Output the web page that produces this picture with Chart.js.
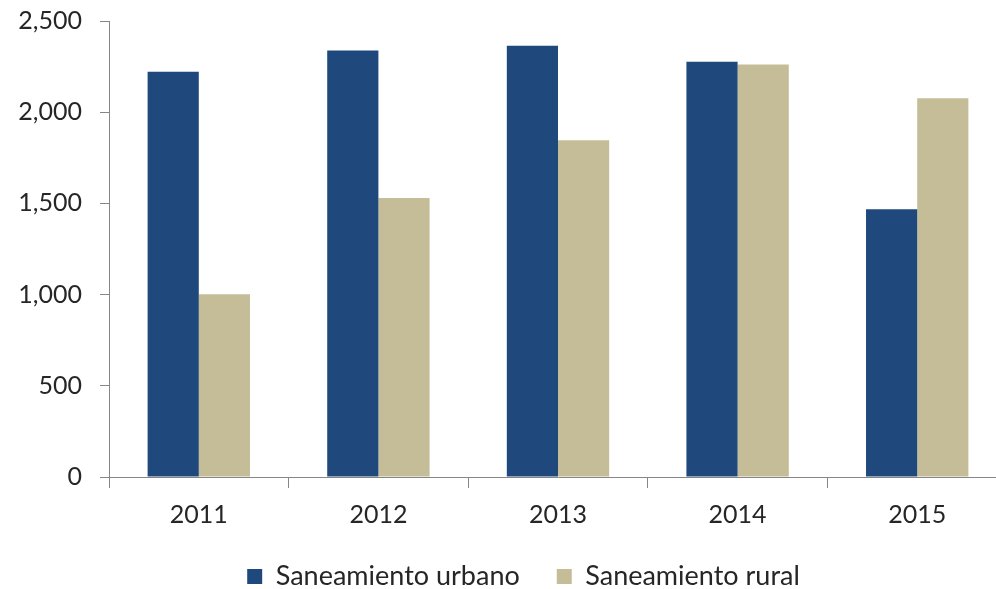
<!DOCTYPE html>
<html>
<head>
<meta charset="utf-8">
<script src="https://cdn.jsdelivr.net/npm/chart.js@4"></script>
<style>
    body { margin: 0; background: #fff; overflow: hidden; }
</style>
</head>
<body>
<canvas id="sanitation-chart" width="1010" height="589"></canvas>
<script>
const years = ["2011", "2012", "2013", "2014", "2015"];
const urbanValues = [2222, 2338, 2364, 2276, 1468];
const ruralValues = [1002, 1530, 1846, 2262, 2077];
const yTicks = [0, 500, 1000, 1500, 2000, 2500];

const sanitationCanvas = document.querySelector("#sanitation-chart").getContext('2d');

Chart.defaults.font.family = 'Lato, "Open Sans", sans-serif';
Chart.defaults.color = '#262626';

// nudge the legend a little right, like the original
const legendShift = {
    id: 'legendShift',
    afterLayout: (chart) => {
        chart.legend.left += 20;
        chart.legend.right += 20;
    }
};

let sanitationChart = new Chart(sanitationCanvas, {
    type: 'bar',
    data: {
        labels: years,
        datasets: [
            {
                label: 'Saneamiento urbano',
                data: urbanValues,
                backgroundColor: '#1f497d',
                categoryPercentage: 0.57,
                barPercentage: 1.0
            },
            {
                label: 'Saneamiento rural',
                data: ruralValues,
                backgroundColor: '#c4bd97',
                categoryPercentage: 0.57,
                barPercentage: 1.0
            }
        ]
    },
    options: {
        responsive: false,
        animation: { duration: 0 },
        layout: {
            padding: { top: 21, left: 0, right: 3, bottom: 4 }
        },
        plugins: {
            legend: {
                position: 'bottom',
                maxHeight: 59,
                labels: {
                    boxWidth: 15,
                    boxHeight: 15,
                    padding: 37,
                    font: { size: 27 }
                }
            },
            title: { display: false },
            tooltip: { enabled: false }
        },
        scales: {
            y: {
                min: 0,
                max: 2500,
                afterBuildTicks: (scale) => {
                    scale.ticks = yTicks.map(v => ({ value: v }));
                },
                afterFit: (scale) => {
                    scale.width = 109;
                    scale.paddingTop = 0;
                    scale.paddingBottom = 0;
                },
                border: { color: '#868686', width: 1 },
                grid: {
                    drawOnChartArea: false,
                    drawTicks: true,
                    tickLength: 9,
                    color: '#868686'
                },
                ticks: {
                    padding: 18,
                    font: { size: 25 },
                    callback: (v) => v.toLocaleString('en-US')
                }
            },
            x: {
                afterFit: (scale) => { scale.height = 49; },
                border: { color: '#868686', width: 1 },
                grid: {
                    offset: true,
                    drawOnChartArea: false,
                    drawTicks: true,
                    tickLength: 11,
                    color: '#868686'
                },
                ticks: {
                    padding: 12,
                    font: { size: 25 }
                }
            }
        }
    },
    plugins: [legendShift]
});
</script>
</body>
</html>
